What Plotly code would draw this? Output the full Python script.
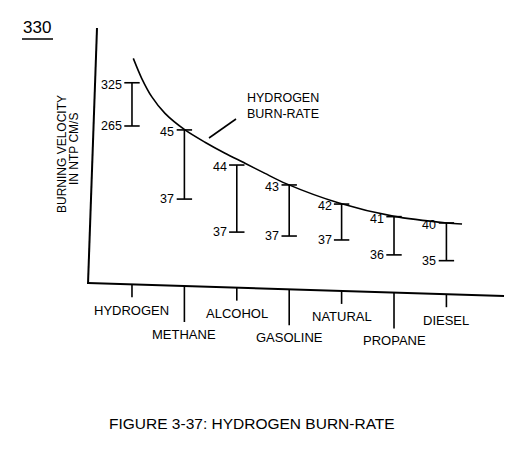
import plotly.graph_objects as go

# ---------------- data ----------------
fuels = ["HYDROGEN", "METHANE", "ALCOHOL", "GASOLINE", "NATURAL", "PROPANE", "DIESEL"]
high_vals = [325, 45, 44, 43, 42, 41, 40]
low_vals = [265, 37, 37, 37, 37, 36, 35]
# The chart is schematic (not to scale, unlabelled axis): drawn heights read off
# the picture in units of 0-100 of the plot height.
top_h = [79.1, 61.1, 47.7, 40.1, 32.8, 28.0, 25.6]
bot_h = [62.6, 34.7, 22.1, 20.6, 19.1, 13.4, 11.2]
# hydrogen burn-rate curve (category-index x, height y)
curve_x = [0.025, 0.185, 0.376, 0.630, 1.011, 1.393, 1.775, 2.156, 2.538, 2.939, 3.950, 4.981, 6.011, 6.298]
curve_y = [88.4, 80.8, 73.8, 67.4, 61.1, 56.4, 52.2, 48.4, 44.5, 40.6, 33.2, 28.2, 25.6, 25.2]
long_tick = [False, True, False, True, False, True, False]

page_no = "330"
curve_label = "HYDROGEN<br>BURN-RATE"
y_title = ["BURNING VELOCITY", "IN NTP CM/S"]
caption = "FIGURE 3-37: HYDROGEN BURN-RATE"

# ---------------- geometry helpers ----------------
PAGE_OFF = 8                      # default body margin of the html page
W, H = 527 - PAGE_OFF, 452 - PAGE_OFF
L, R, T, B = 92, 505, 28, 290     # plot area in window pixels
XR = [-0.763, 7.118]
YR = [0, 100]
FONT = "Liberation Sans, Arial, Helvetica, sans-serif"


def px_of_idx(i):
    return L + (i - XR[0]) / (XR[1] - XR[0]) * (R - L)


def pxx(p):
    return (p - L) / (R - L)


def pxy(p):
    return (B - p) / (B - T)


def axis_y(xp):
    # scanned baseline is slightly tilted
    return 283 + (xp - 88) * 13 / 416


fig = go.Figure()

# hydrogen burn-rate curve
fig.add_trace(go.Scatter(
    x=curve_x, y=curve_y, mode="lines",
    line=dict(color="black", width=1.6, shape="spline", smoothing=0.8),
    hoverinfo="skip", showlegend=False))

# range bars
bx, by = [], []
for i in range(len(fuels)):
    bx += [i, i, None]
    by += [bot_h[i], top_h[i], None]
fig.add_trace(go.Scatter(
    x=bx, y=by, mode="lines+markers",
    line=dict(color="black", width=1.6),
    marker=dict(symbol="line-ew", size=11, line=dict(color="black", width=1.6)),
    hoverinfo="skip", showlegend=False))

ann = []
shapes = []
# value labels
for i in range(len(fuels)):
    ann.append(dict(x=i, y=top_h[i], xref="x", yref="y", text=str(high_vals[i]),
                    showarrow=False, xanchor="right", yanchor="middle",
                    xshift=-8, yshift=-2, font=dict(size=12.5, color="black", family=FONT)))
    ann.append(dict(x=i, y=bot_h[i], xref="x", yref="y", text=str(low_vals[i]),
                    showarrow=False, xanchor="right", yanchor="middle",
                    xshift=-8, yshift=0, font=dict(size=12.5, color="black", family=FONT)))

# category ticks and labels along the (tilted) baseline
for i, f in enumerate(fuels):
    xp = px_of_idx(i)
    ay = axis_y(xp)
    ln = 36 if long_tick[i] else 13
    shapes.append(dict(type="line", xref="x", yref="paper", x0=i, x1=i,
                       y0=pxy(ay), y1=pxy(ay + ln), line=dict(color="black", width=1.6)))
    off = 48 if long_tick[i] else 26
    ann.append(dict(x=i, y=pxy(ay + off), xref="x", yref="paper", text=f,
                    showarrow=False, xanchor="center", yanchor="middle",
                    font=dict(size=13, color="black", family=FONT)))

# axes (scan is slightly skewed)
shapes.append(dict(type="line", xref="paper", yref="paper",
                   x0=pxx(88), y0=pxy(283), x1=pxx(504), y1=pxy(296),
                   line=dict(color="black", width=2)))
shapes.append(dict(type="line", xref="paper", yref="paper",
                   x0=pxx(97), y0=pxy(28), x1=pxx(88), y1=pxy(284),
                   line=dict(color="black", width=2)))

# y-axis title (two lines)
ann.append(dict(x=pxx(62), y=pxy(154), xref="paper", yref="paper", text=y_title[0],
                textangle=-90, showarrow=False, xanchor="center", yanchor="middle",
                font=dict(size=12, color="black", family=FONT)))
ann.append(dict(x=pxx(74), y=pxy(149), xref="paper", yref="paper", text=y_title[1],
                textangle=-90, showarrow=False, xanchor="center", yanchor="middle",
                font=dict(size=12, color="black", family=FONT)))

# curve callout
ann.append(dict(x=pxx(245), y=pxy(106), xref="paper", yref="paper", text=curve_label,
                showarrow=False, xanchor="left", yanchor="middle", align="left",
                font=dict(size=12.5, color="black", family=FONT)))
shapes.append(dict(type="line", xref="paper", yref="paper",
                   x0=pxx(236), y0=pxy(119), x1=pxx(209), y1=pxy(138),
                   line=dict(color="black", width=1.6)))

# page number with underline
ann.append(dict(x=pxx(37), y=pxy(27), xref="paper", yref="paper", text=page_no,
                showarrow=False, xanchor="center", yanchor="middle",
                font=dict(size=17, color="black", family=FONT)))
shapes.append(dict(type="line", xref="paper", yref="paper",
                   x0=pxx(22), y0=pxy(39), x1=pxx(53), y1=pxy(39),
                   line=dict(color="black", width=1.5)))

# caption
ann.append(dict(x=pxx(252), y=pxy(423), xref="paper", yref="paper", text=caption,
                showarrow=False, xanchor="center", yanchor="middle",
                font=dict(size=15.5, color="black", family=FONT)))

fig.update_layout(
    width=W, height=H,
    margin=dict(l=L - PAGE_OFF, r=527 - R, t=T - PAGE_OFF, b=452 - B, pad=0),
    paper_bgcolor="white", plot_bgcolor="white",
    xaxis=dict(range=XR, visible=False, showgrid=False, zeroline=False, fixedrange=True),
    yaxis=dict(range=YR, visible=False, showgrid=False, zeroline=False, fixedrange=True),
    annotations=ann, shapes=shapes, showlegend=False,
    font=dict(family=FONT, color="black"),
)

fig.write_html("out.html", config={"displayModeBar": False})
